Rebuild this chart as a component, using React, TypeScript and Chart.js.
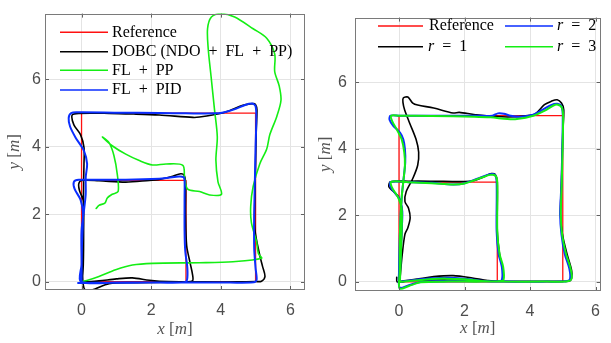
import React, { useEffect, useRef } from "react";
import { Chart, registerables } from "chart.js";
Chart.register(...registerables);

// ---------- data ----------
const xTicks = [0, 2, 4, 6];
const yTicks = [0, 2, 4, 6];

const leftLabels = ["Reference", "DOBC (NDO + FL + PP)", "FL + PP", "FL + PID"];
const rightLabels = ["Reference", "r = 1", "r = 2", "r = 3"];

const refPath: [number, number][] = [
  [0, 0], [5, 0], [5, 5], [0, 5], [0, 0], [3, 0], [3, 3], [0, 3], [0, 0],
];

const dobcPath: [number, number][] = [
  [0.0, -0.02], [0.5, 0.02], [1.0, 0.08], [1.46, 0.11], [1.95, 0.04], [2.5, 0.0], [3.5, -0.01],
  [4.5, -0.01], [5.0, 0.0], [5.17, 0.01], [5.27, 0.15], [5.2, 0.45], [5.12, 0.78], [4.98, 1.56],
  [4.98, 2.5], [5.0, 3.5], [5.02, 4.5], [5.04, 5.1], [5.0, 5.25], [4.93, 5.28], [4.72, 5.25],
  [4.55, 5.2], [4.16, 5.04], [3.8, 4.95], [3.39, 4.88], [3.2, 4.87], [2.23, 4.94], [1.5, 4.97],
  [0.79, 4.99], [-0.08, 4.99], [-0.27, 4.94], [-0.22, 4.65], [-0.03, 4.36], [0.07, 3.98],
  [0.07, 3.49], [0.06, 3.0], [0.05, 2.0], [0.04, 1.0], [0.03, 0.2], [0.05, -0.1], [0.1, -0.24],
  [0.3, -0.25], [0.79, -0.06], [1.5, -0.03], [2.5, -0.02], [3.0, -0.01], [3.19, 0.02],
  [3.19, 0.2], [3.12, 0.55], [3.02, 1.07], [2.99, 2.0], [2.99, 2.9], [2.95, 3.15], [2.85, 3.2],
  [2.6, 3.12], [2.2, 3.02], [1.95, 3.0], [1.27, 2.95], [0.5, 2.99], [0.0, 3.0], [-0.08, 2.9],
  [-0.06, 2.7], [0.05, 2.4], [0.06, 1.5], [0.05, 0.5], [0.02, 0.0],
];

const flppPath: [number, number][] = [
  [0, 0], [0.15, 0.03], [0.5, 0.15], [0.98, 0.35], [1.46, 0.49], [2.04, 0.54], [3.39, 0.56],
  [4.35, 0.59], [5.17, 0.69], [5.08, 0.83], [5.03, 1.17], [4.88, 1.75], [4.86, 2.23], [4.93, 2.82],
  [5.12, 3.49], [5.32, 3.93], [5.41, 4.36], [5.61, 4.9], [5.73, 5.38], [5.68, 5.8], [5.55, 6.23],
  [5.55, 6.75], [5.32, 7.22], [4.93, 7.5], [4.4, 7.85], [4.0, 7.95], [3.73, 7.85], [3.62, 7.5],
  [3.64, 6.9], [3.72, 6.1], [3.82, 5.1], [3.9, 4.3], [3.86, 3.6], [3.92, 2.96], [4.02, 2.59],
  [3.68, 2.57], [3.39, 2.67], [3.05, 2.74], [2.96, 3.06], [2.91, 3.45], [2.43, 3.49], [2.04, 3.46],
  [1.66, 3.59], [1.27, 3.78], [0.88, 4.03], [0.6, 4.29], [0.79, 4.12], [0.93, 3.74], [1.03, 3.16],
  [1.05, 2.67], [0.88, 2.59], [0.74, 2.48], [0.67, 2.33], [0.5, 2.26], [0.42, 2.17],
];

const flpidPath: [number, number][] = [
  [-0.1, -0.04], [1, -0.03], [2, -0.03], [3, -0.03], [4, -0.03], [4.95, -0.02], [5.03, 0.05],
  [5.0, 0.4], [4.96, 1.0], [4.96, 2.0], [4.98, 3.0], [5.0, 4.0], [5.02, 4.8], [5.0, 5.2],
  [4.9, 5.28], [4.7, 5.24], [4.45, 5.13], [4.16, 5.04], [3.87, 4.99], [3.0, 4.99], [2.23, 5.0],
  [1.0, 5.01], [-0.08, 5.02], [-0.3, 5.0], [-0.37, 4.85], [-0.33, 4.6], [-0.17, 4.27], [0.07, 3.88],
  [0.16, 3.49], [0.12, 3.1], [0.12, 2.6], [0.08, 2.2], [0.0, 1.5], [0.0, 0.5], [-0.02, 0.0],
  [1.0, -0.03], [2.0, -0.03], [2.95, -0.02], [3.03, 0.05], [3.04, 0.4], [2.98, 0.9], [2.96, 1.5],
  [2.96, 2.5], [2.96, 3.0], [2.93, 3.1], [2.8, 3.12], [2.5, 3.08], [2.23, 3.05], [1.27, 3.02],
  [0.5, 3.02], [-0.08, 3.02], [-0.22, 2.96], [-0.2, 2.75], [-0.03, 2.43], [0.04, 2.04], [0.01, 1.0],
  [0.0, 0.0],
];

const r1Path: [number, number][] = [
  [-0.07, 0.14], [-0.06, 0.0], [0.1, 0.03], [0.66, 0.1], [1.06, 0.16], [1.65, 0.19], [2.24, 0.12],
  [2.7, 0.04], [3.2, 0.02], [4.2, 0.02], [5.0, 0.02], [5.2, 0.03], [5.27, 0.12], [5.27, 0.35],
  [5.13, 0.84], [4.99, 1.43], [4.93, 2.03], [4.96, 3.01], [5.0, 4.49], [5.03, 5.18], [4.96, 5.38],
  [4.83, 5.48], [4.64, 5.43], [4.44, 5.33], [4.19, 5.08], [4.0, 5.01], [3.31, 4.96], [2.33, 5.03],
  [1.84, 5.1], [1.65, 5.08], [1.06, 5.23], [0.57, 5.32], [0.42, 5.38], [0.27, 5.56], [0.13, 5.53],
  [0.12, 5.4], [0.17, 5.18], [0.32, 4.79], [0.52, 4.29], [0.6, 3.9], [0.57, 3.51], [0.42, 3.11],
  [0.22, 2.72], [0.18, 2.42], [0.29, 2.22], [0.34, 1.93], [0.27, 1.63], [0.18, 1.43], [0.1, 0.84],
  [0.04, 0.2], [0.03, 0.0], [0.3, 0.05], [1.5, 0.06], [2.5, 0.05], [3.0, 0.03], [3.17, 0.05],
  [3.17, 0.35], [3.07, 0.84], [3.0, 1.53], [3.0, 3.01], [2.94, 3.23], [2.82, 3.26], [2.63, 3.18],
  [2.33, 3.06], [2.0, 3.02], [1.0, 3.03], [0.3, 3.03], [-0.26, 3.01], [-0.31, 2.86], [-0.17, 2.72],
  [-0.02, 2.57], [0.08, 2.22], [0.08, 1.53], [0.03, 0.05],
];

const r2Path: [number, number][] = [
  [0.0, 0.0], [0.66, 0.08], [1.0, 0.11], [1.45, 0.13], [2.0, 0.1], [2.5, 0.04], [3.2, 0.01],
  [4.5, 0.01], [5.1, 0.02], [5.22, 0.08], [5.2, 0.4], [5.06, 0.84], [4.96, 1.43], [4.92, 2.03],
  [4.96, 3.01], [5.0, 4.98], [4.96, 5.28], [4.83, 5.36], [4.64, 5.32], [4.39, 5.18], [4.1, 5.03],
  [3.71, 4.97], [3.41, 5.0], [3.2, 5.06], [3.02, 5.07], [2.85, 5.0], [2.3, 5.0], [1.0, 5.0],
  [0.0, 5.0], [-0.26, 5.0], [-0.29, 4.88], [-0.17, 4.69], [0.03, 4.49], [0.13, 4.29], [0.18, 4.0],
  [0.19, 3.6], [0.13, 3.01], [0.08, 2.52], [0.03, 1.53], [0.0, 0.3], [0.02, -0.17], [0.3, -0.1],
  [0.66, 0.0], [1.5, 0.02], [2.5, 0.02], [3.0, 0.02], [3.14, 0.06], [3.14, 0.45], [3.04, 0.84],
  [2.98, 1.53], [2.98, 3.01], [2.92, 3.23], [2.77, 3.24], [2.53, 3.16], [2.0, 2.97], [1.65, 2.93],
  [1.0, 2.98], [0.3, 3.0], [-0.26, 3.01], [-0.26, 2.86], [-0.12, 2.67], [0.03, 2.47], [0.1, 2.12],
  [0.08, 1.53], [0.02, 0.05],
];

const r3Path: [number, number][] = [
  [0.0, 0.0], [0.66, 0.06], [1.0, 0.09], [1.45, 0.1], [2.0, 0.08], [2.5, 0.03], [3.2, 0.01],
  [4.5, 0.01], [5.15, 0.02], [5.27, 0.1], [5.24, 0.4], [5.1, 0.84], [4.98, 1.43], [4.94, 2.03],
  [4.97, 3.01], [5.01, 4.9], [4.98, 5.23], [4.85, 5.33], [4.7, 5.3], [4.45, 5.15], [4.1, 5.0],
  [3.6, 4.9], [3.31, 4.9], [2.8, 4.95], [2.3, 4.97], [1.0, 4.99], [0.0, 5.0], [-0.24, 5.0],
  [-0.21, 4.84], [-0.07, 4.59], [0.08, 4.29], [0.16, 3.9], [0.18, 3.51], [0.13, 3.01], [0.08, 2.52],
  [0.03, 1.53], [0.02, 0.3], [0.02, -0.2], [0.3, -0.12], [0.66, -0.01], [1.5, 0.01], [2.5, 0.01],
  [3.05, 0.02], [3.19, 0.06], [3.18, 0.45], [3.07, 0.84], [3.0, 1.53], [3.0, 3.01], [2.94, 3.2],
  [2.78, 3.22], [2.53, 3.14], [2.0, 2.96], [1.65, 2.93], [1.0, 2.97], [0.3, 3.0], [-0.24, 3.01],
  [-0.2, 2.81], [-0.04, 2.57], [0.08, 2.22], [0.08, 1.53], [0.03, 0.05],
];

// ---------- styling ----------
const RED = "#ff1010";
const BLACK = "#000000";
const GREEN = "#14ee14";
const BLUE = "#0a2eff";
const TICK_COLOR = "#4d4d4d";
const TITLE_COLOR = "#555555";
const SERIF = '"Liberation Serif", "Times New Roman", serif';

function drawRich(
  ctx: CanvasRenderingContext2D,
  text: string,
  x: number,
  y: number,
  size: number,
  align: "left" | "center",
  math: boolean,
  color: string
) {
  const src = text.replace(/ ([+=]) /g, "\u2002$1\u2002");
  const parts: { t: string; it: boolean; w: number }[] = [];
  for (const ch of src) {
    const it = math && /[A-Za-z]/.test(ch);
    const last = parts[parts.length - 1];
    if (last && last.it === it) last.t += ch;
    else parts.push({ t: ch, it, w: 0 });
  }
  const fontOf = (it: boolean) => `${it ? "italic " : ""}${size}px ${SERIF}`;
  let total = 0;
  for (const p of parts) {
    ctx.font = fontOf(p.it);
    p.w = ctx.measureText(p.t).width;
    total += p.w;
  }
  let cx = align === "center" ? x - total / 2 : x;
  ctx.fillStyle = color;
  ctx.textBaseline = "middle";
  ctx.textAlign = "left";
  for (const p of parts) {
    ctx.font = fontOf(p.it);
    ctx.fillText(p.t, cx, y);
    cx += p.w;
  }
}

const matlabPlugin = {
  id: "matlabAxes",
  afterDatasetsDraw(chart: any, _args: any, o: any) {
    const { ctx, chartArea: a, scales } = chart;
    ctx.save();
    // inward tick marks
    ctx.strokeStyle = "#606060";
    ctx.lineWidth = 1;
    ctx.beginPath();
    for (const v of xTicks) {
      const px = Math.round(scales.x.getPixelForValue(v)) + 0.5;
      if (px < a.left || px > a.right) continue;
      ctx.moveTo(px, a.bottom);
      ctx.lineTo(px, a.bottom - 4);
      ctx.moveTo(px, a.top);
      ctx.lineTo(px, a.top + 4);
    }
    for (const v of yTicks) {
      const py = Math.round(scales.y.getPixelForValue(v)) + 0.5;
      ctx.moveTo(a.left, py);
      ctx.lineTo(a.left + 4, py);
      ctx.moveTo(a.right, py);
      ctx.lineTo(a.right - 4, py);
    }
    ctx.stroke();
    // box
    ctx.strokeStyle = "#7a7a7a";
    ctx.strokeRect(Math.round(a.left) + 0.5, Math.round(a.top) + 0.5, Math.round(a.width) - 1, Math.round(a.height) - 1);

    // legend
    for (const item of o.legend) {
      const ds = chart.data.datasets.find((d: any) => d.label === item.label);
      if (!ds) continue;
      ctx.strokeStyle = ds.borderColor;
      ctx.lineWidth = 1.6;
      ctx.beginPath();
      ctx.moveTo(item.x0, item.y);
      ctx.lineTo(item.x1, item.y);
      ctx.stroke();
      drawRich(ctx, item.label, item.tx, item.y, 16, "left", /=/.test(item.label), "#000000");
    }

    // axis titles
    drawRich(ctx, o.xTitle, (a.left + a.right) / 2, a.bottom + o.xTitleDy, 17, "center", true, TITLE_COLOR);
    ctx.save();
    ctx.translate(a.left - o.yTitleDx, (a.top + a.bottom) / 2);
    ctx.rotate(-Math.PI / 2);
    drawRich(ctx, o.yTitle, 0, 0, 17, "center", true, TITLE_COLOR);
    ctx.restore();
    ctx.restore();
  },
};

function series(label: string, path: [number, number][], color: string, width: number, tension: number) {
  return {
    label,
    data: path.map(([x, y]) => ({ x, y })),
    showLine: true,
    borderColor: color,
    backgroundColor: color,
    borderWidth: width,
    pointRadius: 0,
    tension,
    borderJoinStyle: "round",
    borderCapStyle: "round",
  };
}

function makeConfig(datasets: any[], p: any) {
  const tickFont = { family: '"Liberation Sans", Arial, sans-serif', size: 16 };
  return {
    type: "scatter",
    data: { datasets },
    options: {
      responsive: false,
      maintainAspectRatio: false,
      animation: false,
      devicePixelRatio: 1,
      events: [],
      layout: { padding: { left: 0, right: p.padRight, top: p.padTop, bottom: 0 } },
      plugins: {
        legend: { display: false },
        tooltip: { enabled: false },
        matlabAxes: {
          legend: p.legend,
          xTitle: "x [m]",
          yTitle: "y [m]",
          xTitleDy: p.xTitleDy,
          yTitleDx: p.yTitleDx,
        },
      },
      scales: {
        x: {
          type: "linear",
          min: p.xMin,
          max: p.xMax,
          afterFit: (s: any) => {
            s.height = p.xHeight;
          },
          afterBuildTicks: (s: any) => {
            s.ticks = xTicks.map((v) => ({ value: v }));
          },
          grid: { color: "#e4e4e4", lineWidth: 1, drawTicks: false },
          border: { display: false },
          ticks: { padding: p.xTickPad, font: tickFont, color: TICK_COLOR, maxRotation: 0 },
        },
        y: {
          type: "linear",
          min: p.yMin,
          max: p.yMax,
          afterFit: (s: any) => {
            s.width = p.yWidth;
          },
          afterBuildTicks: (s: any) => {
            s.ticks = yTicks.map((v) => ({ value: v }));
          },
          grid: { color: "#e4e4e4", lineWidth: 1, drawTicks: false },
          border: { display: false },
          ticks: { padding: p.yTickPad, font: tickFont, color: TICK_COLOR },
        },
      },
    },
    plugins: [matlabPlugin],
  };
}

export default function App() {
  const leftRef = useRef<HTMLCanvasElement | null>(null);
  const rightRef = useRef<HTMLCanvasElement | null>(null);

  useEffect(() => {
    const leftDatasets = [
      series(leftLabels[3], flpidPath, BLUE, 2, 0.3),
      series(leftLabels[2], flppPath, GREEN, 1.6, 0.3),
      series(leftLabels[1], dobcPath, BLACK, 1.6, 0.3),
      series(leftLabels[0], refPath, RED, 1.3, 0),
    ];
    const rightDatasets = [
      series(rightLabels[3], r3Path, GREEN, 2, 0.3),
      series(rightLabels[2], r2Path, BLUE, 2, 0.3),
      series(rightLabels[1], r1Path, BLACK, 1.6, 0.3),
      series(rightLabels[0], refPath, RED, 1.3, 0),
    ];
    const leftLegend = [
      { label: leftLabels[0], x0: 60, x1: 108, tx: 112, y: 32.3 },
      { label: leftLabels[1], x0: 60, x1: 108, tx: 112, y: 51.7 },
      { label: leftLabels[2], x0: 60, x1: 108, tx: 112, y: 70.3 },
      { label: leftLabels[3], x0: 60, x1: 108, tx: 112, y: 90 },
    ];
    const rightLegend = [
      { label: rightLabels[0], x0: 68, x1: 113, tx: 119, y: 26 },
      { label: rightLabels[1], x0: 68, x1: 113, tx: 118, y: 46.7 },
      { label: rightLabels[2], x0: 195, x1: 243, tx: 247, y: 26 },
      { label: rightLabels[3], x0: 195, x1: 243, tx: 247, y: 46.7 },
    ];
    const left = new Chart(
      leftRef.current as HTMLCanvasElement,
      makeConfig(leftDatasets, {
        padRight: 5, padTop: 7, xHeight: 53, yWidth: 45,
        xMin: -1.05, xMax: 6.42, yMin: -0.25, yMax: 7.95,
        xTickPad: 11, yTickPad: 4, xTitleDy: 40, yTitleDx: 30,
        legend: leftLegend,
      }) as any
    );
    const right = new Chart(
      rightRef.current as HTMLCanvasElement,
      makeConfig(rightDatasets, {
        padRight: 1, padTop: 13, xHeight: 52, yWidth: 45,
        xMin: -1.344, xMax: 6.156, yMin: -0.272, yMax: 7.95,
        xTickPad: 11, yTickPad: 8, xTitleDy: 38, yTitleDx: 29,
        legend: rightLegend,
      }) as any
    );
    return () => {
      left.destroy();
      right.destroy();
    };
  }, []);

  return (
    <div style={{ position: "absolute", left: 0, top: 0, width: 611, height: 343, background: "#ffffff", overflow: "hidden" }}>
      <canvas ref={leftRef} width={310} height={343} style={{ position: "absolute", left: 0, top: 0 }} />
      <canvas ref={rightRef} width={301} height={343} style={{ position: "absolute", left: 310, top: 0 }} />
    </div>
  );
}
